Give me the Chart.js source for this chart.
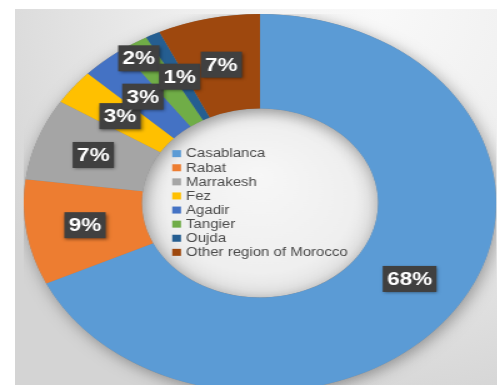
<!DOCTYPE html>
<html>
<head>
<meta charset="utf-8">
<script src="https://cdn.jsdelivr.net/npm/chart.js@4.4.0/dist/chart.umd.min.js"></script>
<style>
  html, body { margin: 0; padding: 0; width: 497px; height: 385px; overflow: hidden; background: #fff; }
  #panel {
    position: absolute; left: 15px; top: 9px; right: 0; bottom: 0;
    background: radial-gradient(ellipse 90% 110% at 75% 0%, #f9f9f9 0%, #eeeeee 45%, #d4d4d4 100%);
  }
  /* the ring is drawn round and then widened, like the original sheet export */
  #wrap {
    position: absolute; left: 71px; top: 14px; width: 378px; height: 378px;
    transform: scaleX(1.25); transform-origin: 189px 189px;
  }
</style>
</head>
<body>
<div id="panel"></div>
<div id="wrap"><canvas id="regionChart" width="378" height="378"></canvas></div>
<script>
const regions = ['Casablanca', 'Rabat', 'Marrakesh', 'Fez', 'Agadir', 'Tangier', 'Oujda', 'Other region of Morocco'];
const shares = [68, 9, 7, 3, 3, 2, 1, 7];

const sliceColors = ['#5B9BD5', '#ED7D31', '#A5A5A5', '#FFC000', '#4472C4', '#70AD47', '#255E91', '#9E480E'];

// the 2% tag is nudged out of the way of its neighbours
const tagNudge = { 5: { x: -21, y: -25 } };

// light hole and a soft drop shadow under the ring
const ringShadow = {
    id: 'ringShadow',
    beforeDatasetsDraw(chart) {
        const arc = chart.getDatasetMeta(0).data[0];
        if (!arc) return;
        const { x, y, innerRadius, outerRadius } = arc.getProps(['x', 'y', 'innerRadius', 'outerRadius'], true);
        const ctx = chart.ctx;
        ctx.save();
        const g = ctx.createRadialGradient(x, y - innerRadius * 0.3, 0, x, y, innerRadius);
        g.addColorStop(0, '#f7f7f7');
        g.addColorStop(0.8, '#efefef');
        g.addColorStop(1, '#e2e2e2');
        ctx.fillStyle = g;
        ctx.beginPath();
        ctx.arc(x, y, innerRadius, 0, Math.PI * 2);
        ctx.fill();

        ctx.shadowColor = 'rgba(0,0,0,0.35)';
        ctx.shadowBlur = 14;
        ctx.shadowOffsetX = 2;
        ctx.shadowOffsetY = 3;
        ctx.fillStyle = '#888';
        ctx.beginPath();
        ctx.arc(x, y, outerRadius, 0, Math.PI * 2);
        ctx.arc(x, y, innerRadius, 0, Math.PI * 2, true);
        ctx.fill();
        ctx.restore();
    }
};

// dark percentage tags on each slice
const valueTags = {
    id: 'valueTags',
    afterDatasetsDraw(chart) {
        const ctx = chart.ctx;
        const values = chart.data.datasets[0].data;
        const total = values.reduce((a, b) => a + b, 0);
        ctx.save();
        ctx.font = 'bold 18px "Liberation Sans", Arial, sans-serif';
        ctx.textAlign = 'center';
        ctx.textBaseline = 'middle';
        chart.getDatasetMeta(0).data.forEach((arc, i) => {
            const pos = arc.tooltipPosition(true);
            const nudge = tagNudge[i] || { x: 0, y: 0 };
            const cx = pos.x + nudge.x;
            const cy = pos.y + nudge.y;
            const text = Math.round(values[i] / total * 100) + '%';
            const w = ctx.measureText(text).width + 7;
            const h = 26;
            ctx.shadowColor = 'rgba(0,0,0,0.45)';
            ctx.shadowBlur = 3;
            ctx.shadowOffsetX = 1;
            ctx.shadowOffsetY = 1.5;
            ctx.fillStyle = '#404040';
            ctx.fillRect(cx - w / 2, cy - h / 2, w, h);
            ctx.shadowColor = 'transparent';
            ctx.fillStyle = '#ffffff';
            ctx.fillText(text, cx, cy + 1);
        });
        ctx.restore();
    }
};

// legend sitting in the doughnut hole
const holeLegend = {
    id: 'holeLegend',
    afterDraw(chart) {
        const arc = chart.getDatasetMeta(0).data[0];
        if (!arc) return;
        const { x, y } = arc.getProps(['x', 'y'], true);
        const ctx = chart.ctx;
        const labels = chart.data.labels;
        const colors = chart.data.datasets[0].backgroundColor;
        const rowH = 14.1;
        const box = 7;
        const gap = 4;
        ctx.save();
        ctx.font = '12px "Liberation Sans", Arial, sans-serif';
        ctx.textBaseline = 'middle';
        const maxW = Math.max(...labels.map(l => ctx.measureText(l).width));
        const left = x - (box + gap + maxW) / 2;
        const top = y - (labels.length - 1) * rowH / 2;
        labels.forEach((label, i) => {
            const ry = top + i * rowH;
            ctx.fillStyle = colors[i];
            ctx.fillRect(left, ry - box / 2, box, box);
            ctx.fillStyle = '#4a4a4a';
            ctx.fillText(label, left + box + gap, ry + 0.5);
        });
        ctx.restore();
    }
};

new Chart(document.getElementById('regionChart'), {
    type: 'doughnut',
    data: {
        labels: regions,
        datasets: [{
            data: shares,
            backgroundColor: sliceColors,
            borderWidth: 0,
            clip: false
        }]
    },
    options: {
        responsive: false,
        animation: false,
        cutout: '50%',
        layout: { padding: 0 },
        plugins: {
            legend: { display: false },
            tooltip: { enabled: false }
        }
    },
    plugins: [ringShadow, valueTags, holeLegend]
});
</script>
</body>
</html>
